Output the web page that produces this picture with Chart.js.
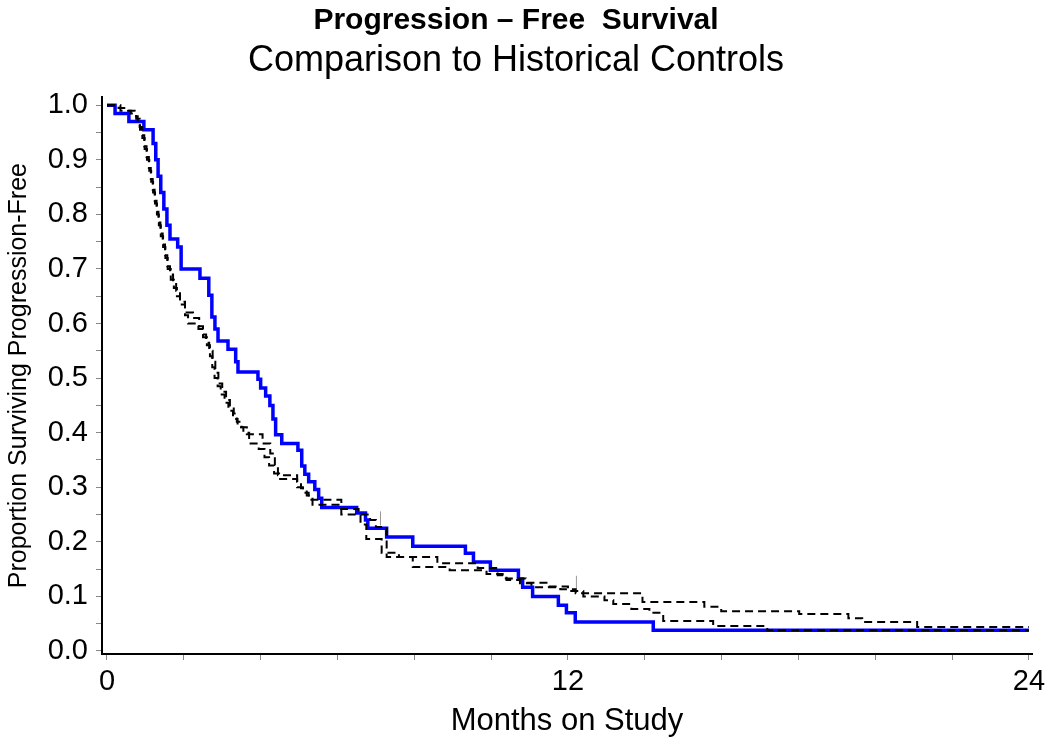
<!DOCTYPE html>
<html>
<head>
<meta charset="utf-8">
<title>Progression-Free Survival</title>
<script src="https://cdn.jsdelivr.net/npm/chart.js@4.4.0/dist/chart.umd.min.js"></script>
<style>
  html, body { margin: 0; padding: 0; background: #fff; }
</style>
</head>
<body>
<canvas id="chart" width="1050" height="747"></canvas>
<script>
// study arm (blue)
const studyMonths = [0, 0.21, 0.57, 0.96, 1.20, 1.27, 1.33, 1.40, 1.48, 1.56, 1.64, 1.84, 1.93, 2.42, 2.65, 2.73, 2.81, 2.89, 3.15, 3.35, 3.41, 3.93, 4.00, 4.13, 4.24, 4.32, 4.39, 4.55, 4.97, 5.07, 5.15, 5.25, 5.41, 5.51, 5.59, 6.50, 6.73, 6.79, 7.28, 7.96, 9.33, 9.54, 9.98, 10.71, 10.82, 11.08, 11.75, 11.96, 12.19, 14.22, 24];
const studySurv = [1.0, 0.985, 0.970, 0.955, 0.93, 0.90, 0.87, 0.84, 0.81, 0.78, 0.755, 0.74, 0.70, 0.683, 0.652, 0.612, 0.59, 0.568, 0.553, 0.53, 0.511, 0.498, 0.482, 0.467, 0.45, 0.425, 0.396, 0.38, 0.368, 0.339, 0.324, 0.31, 0.296, 0.28, 0.263, 0.253, 0.24, 0.225, 0.209, 0.192, 0.179, 0.163, 0.148, 0.132, 0.117, 0.100, 0.084, 0.070, 0.053, 0.038, 0.038];

// historical control 1 (dashed)
const hist1Months = [0, 0.30, 0.55, 0.72, 0.80, 0.86, 0.92, 0.98, 1.04, 1.10, 1.15, 1.20, 1.25, 1.30, 1.35, 1.40, 1.46, 1.52, 1.58, 1.66, 1.74, 1.82, 1.90, 2.03, 2.11, 2.38, 2.50, 2.60, 2.68, 2.74, 2.80, 2.88, 2.96, 3.06, 3.16, 3.28, 3.40, 3.55, 3.70, 3.95, 4.10, 4.22, 4.35, 4.48, 4.95, 5.10, 5.25, 6.10, 6.55, 6.85, 7.00, 7.28, 8.60, 9.65, 10.17, 10.40, 10.75, 11.05, 11.80, 12.20, 13.94, 15.55, 15.99, 18.02, 19.30, 19.66, 21.09, 24];
const hist1Surv = [1.0, 0.995, 0.99, 0.98, 0.97, 0.955, 0.94, 0.92, 0.90, 0.88, 0.86, 0.84, 0.82, 0.80, 0.78, 0.76, 0.74, 0.72, 0.70, 0.68, 0.665, 0.65, 0.635, 0.615, 0.60, 0.59, 0.575, 0.56, 0.54, 0.52, 0.50, 0.485, 0.47, 0.455, 0.44, 0.425, 0.41, 0.40, 0.38, 0.37, 0.355, 0.34, 0.325, 0.315, 0.30, 0.29, 0.277, 0.26, 0.25, 0.24, 0.227, 0.172, 0.161, 0.152, 0.139, 0.13, 0.124, 0.117, 0.113, 0.106, 0.09, 0.081, 0.073, 0.068, 0.06, 0.053, 0.044, 0.044];

// historical control 2 (dashed)
const hist2Months = [0, 0.35, 0.62, 0.76, 0.85, 0.91, 0.97, 1.03, 1.09, 1.14, 1.19, 1.24, 1.29, 1.34, 1.39, 1.45, 1.51, 1.57, 1.64, 1.72, 1.80, 1.90, 2.03, 2.24, 2.40, 2.50, 2.58, 2.66, 2.75, 2.82, 2.90, 3.00, 3.10, 3.20, 3.30, 3.38, 3.50, 3.64, 4.05, 4.25, 4.37, 4.45, 4.95, 5.05, 5.20, 5.35, 6.10, 6.60, 6.75, 7.15, 7.60, 7.96, 8.92, 9.88, 10.30, 10.90, 11.50, 12.00, 12.40, 12.95, 13.18, 13.65, 14.12, 14.48, 15.78, 17.19, 24];
const hist2Surv = [1.0, 0.99, 0.985, 0.975, 0.96, 0.945, 0.925, 0.905, 0.885, 0.865, 0.845, 0.825, 0.805, 0.785, 0.765, 0.745, 0.725, 0.705, 0.69, 0.675, 0.66, 0.64, 0.62, 0.61, 0.595, 0.58, 0.565, 0.55, 0.53, 0.51, 0.49, 0.475, 0.46, 0.45, 0.435, 0.42, 0.41, 0.397, 0.38, 0.362, 0.337, 0.322, 0.31, 0.298, 0.285, 0.268, 0.25, 0.232, 0.205, 0.18, 0.172, 0.154, 0.148, 0.141, 0.133, 0.125, 0.118, 0.11, 0.10, 0.093, 0.086, 0.077, 0.07, 0.055, 0.046, 0.038, 0.038];

// censor marks
const censorMonths = [7.12, 12.22];
const censorSurv = [0.243, 0.125];

const xTickValues = [0, 2, 4, 6, 8, 10, 12, 14, 16, 18, 20, 22, 24];
const xTickLabels = [0, 12, 24];
const yTickValues = [0, 0.05, 0.1, 0.15, 0.2, 0.25, 0.3, 0.35, 0.4, 0.45, 0.5, 0.55, 0.6, 0.65, 0.7, 0.75, 0.8, 0.85, 0.9, 0.95, 1.0];

(() => {
    const fam = "'Liberation Sans', Arial, Helvetica, sans-serif";
    const toPoints = (xs, ys) => xs.map((x, i) => ({x: x, y: ys[i]}));

    const ctx = document.getElementById('chart').getContext('2d');
    new Chart(ctx, {
        type: 'line',
        data: {
            datasets: [
                {
                    label: 'Historical control 1',
                    data: toPoints(hist1Months, hist1Surv),
                    stepped: true,
                    borderColor: '#000',
                    borderWidth: 2,
                    borderDash: [8, 5],
                    pointRadius: 0,
                    fill: false
                },
                {
                    label: 'Historical control 2',
                    data: toPoints(hist2Months, hist2Surv),
                    stepped: true,
                    borderColor: '#000',
                    borderWidth: 2,
                    borderDash: [8, 5],
                    pointRadius: 0,
                    fill: false
                },
                {
                    label: 'Censored',
                    data: toPoints(censorMonths, censorSurv),
                    showLine: false,
                    pointStyle: 'line',
                    rotation: 90,
                    pointRadius: 7,
                    pointBorderColor: '#999',
                    pointBorderWidth: 1
                },
                {
                    label: 'Study',
                    data: toPoints(studyMonths, studySurv),
                    stepped: true,
                    borderColor: '#0000ff',
                    borderWidth: 3.5,
                    pointRadius: 0,
                    fill: false
                }
            ]
        },
        options: {
            responsive: false,
            animation: false,
            layout: { padding: { left: 0, right: 18, top: 0, bottom: 0 } },
            plugins: {
                legend: { display: false },
                tooltip: { enabled: false },
                title: {
                    display: true,
                    text: 'Progression – Free  Survival',
                    color: '#000',
                    font: { family: fam, size: 30, weight: 'bold' },
                    padding: { top: 3, bottom: 0 }
                },
                subtitle: {
                    display: true,
                    text: 'Comparison to Historical Controls',
                    color: '#000',
                    font: { family: fam, size: 36, weight: 'normal' },
                    padding: { top: 0, bottom: 15 }
                }
            },
            scales: {
                x: {
                    type: 'linear',
                    min: -0.13,
                    max: 24.08,
                    afterBuildTicks: axis => { axis.ticks = xTickValues.map(v => ({value: v})); },
                    afterFit: s => { s.height = 93; s.paddingLeft = 0; s.paddingRight = 0; },
                    ticks: {
                        autoSkip: false,
                        maxRotation: 0,
                        padding: 5,
                        color: '#000',
                        font: { family: fam, size: 29 },
                        callback: v => xTickLabels.includes(v) ? String(v) : ''
                    },
                    grid: { drawOnChartArea: false, tickLength: 6, color: '#888' },
                    border: { display: true, color: '#000', width: 2 },
                    title: {
                        display: true,
                        text: 'Months on Study',
                        color: '#000',
                        font: { family: fam, size: 31 },
                        padding: { top: 0, bottom: 7 }
                    }
                },
                y: {
                    type: 'linear',
                    min: -0.0055,
                    max: 1.0147,
                    afterBuildTicks: axis => { axis.ticks = yTickValues.map(v => ({value: v})); },
                    afterFit: s => { s.width = 102; s.paddingTop = 0; s.paddingBottom = 0; },
                    ticks: {
                        autoSkip: false,
                        padding: 8,
                        color: '#000',
                        font: { family: fam, size: 29 },
                        callback: (v, i) => i % 2 === 0 ? v.toFixed(1) : ''
                    },
                    grid: { drawOnChartArea: false, tickLength: 6, color: '#888' },
                    border: { display: true, color: '#000', width: 2 },
                    title: {
                        display: true,
                        text: 'Proportion Surviving Progression-Free',
                        color: '#000',
                        font: { family: fam, size: 25 },
                        padding: { top: 4, bottom: 0 }
                    }
                }
            }
        }
    });
})();
</script>
</body>
</html>
